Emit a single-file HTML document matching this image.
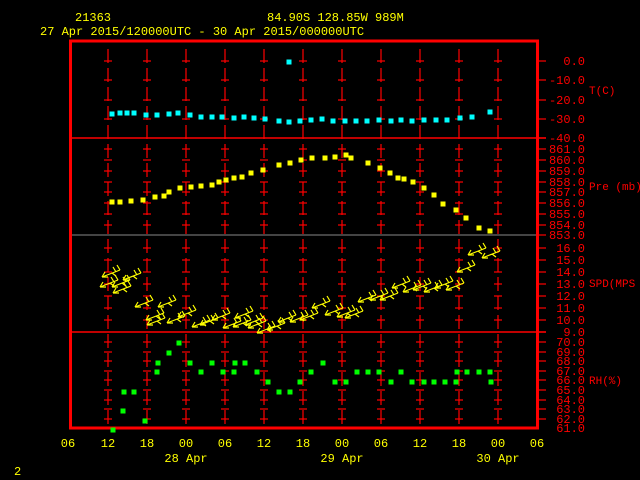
<!DOCTYPE html>
<html><head><meta charset="utf-8"><style>
html,body{margin:0;padding:0;background:#000;width:640px;height:480px;overflow:hidden}
svg{display:block}
text{font-family:"Liberation Mono",monospace;font-size:12px}
</style></head><body>
<svg id="s" width="640" height="480" xmlns="http://www.w3.org/2000/svg">
<rect width="640" height="480" fill="#000"/>
<g id="grid"></g>
<line x1="70" y1="235" x2="538" y2="235" stroke="#888" stroke-width="1"/>
<line x1="70" y1="138" x2="546" y2="138" stroke="#f00" stroke-width="1.5"/>
<line x1="70" y1="332" x2="546" y2="332" stroke="#f00" stroke-width="1.5"/>
<rect x="70.5" y="41" width="467" height="387" fill="none" stroke="#f00" stroke-width="3"/>
<g id="pts"></g>
<g id="wind" stroke="#ff0" stroke-width="1.2" fill="none"></g>
<g fill="#ff0">
<text x="75" y="21">21363</text>
<text x="267" y="21">84.90S  128.85W  989M</text>
<text x="40" y="35">27 Apr 2015/120000UTC - 30 Apr 2015/000000UTC</text>
<text x="14" y="475">2</text>
<g text-anchor="middle">
<text x="68" y="447">06</text><text x="108" y="447">12</text><text x="147" y="447">18</text><text x="186" y="447">00</text><text x="225" y="447">06</text><text x="264" y="447">12</text><text x="303" y="447">18</text><text x="342" y="447">00</text><text x="381" y="447">06</text><text x="420" y="447">12</text><text x="459" y="447">18</text><text x="498" y="447">00</text><text x="537" y="447">06</text>
<text x="186" y="462">28 Apr</text><text x="342" y="462">29 Apr</text><text x="498" y="462">30 Apr</text>
</g></g>
<g fill="#f00" text-anchor="end">
<text x="585" y="65">0.0</text><text x="585" y="84">-10.0</text><text x="585" y="104">-20.0</text><text x="585" y="123">-30.0</text><text x="585" y="142">-40.0</text>
<text x="585" y="153">861.0</text><text x="585" y="164">860.0</text><text x="585" y="175">859.0</text><text x="585" y="186">858.0</text><text x="585" y="196">857.0</text><text x="585" y="207">856.0</text><text x="585" y="218">855.0</text><text x="585" y="229">854.0</text><text x="585" y="239">853.0</text>
<text x="585" y="252">16.0</text><text x="585" y="264">15.0</text><text x="585" y="276">14.0</text><text x="585" y="288">13.0</text><text x="585" y="300">12.0</text><text x="585" y="312">11.0</text><text x="585" y="324">10.0</text><text x="585" y="336">9.0</text>
<text x="585" y="346">70.0</text><text x="585" y="356">69.0</text><text x="585" y="365">68.0</text><text x="585" y="375">67.0</text><text x="585" y="384">66.0</text><text x="585" y="394">65.0</text><text x="585" y="404">64.0</text><text x="585" y="413">63.0</text><text x="585" y="423">62.0</text><text x="585" y="432">61.0</text>
</g>
<g fill="#f00" font-size="11">
<text x="589" y="94" style="font-size:11px">T(C)</text>
<text x="589" y="190" style="font-size:11px">Pre (mb)</text>
<text x="589" y="287" style="font-size:11px">SPD(MPS</text>
<text x="589" y="384" style="font-size:11px">RH(%)</text>
</g>
</svg>
<script>
var NS="http://www.w3.org/2000/svg";
function el(p,t,a){var e=document.createElementNS(NS,t);for(var k in a)e.setAttribute(k,a[k]);p.appendChild(e);return e;}
var g=document.getElementById("grid");
var xs=[108,147,186,225,264,303,342,381,420,459,498];
var ys=[61,80,100,119,149,160,171,182,192,203,214,225,248,260,272,284,296,308,320,342,352,361,371,380,390,400,409,419];
xs.forEach(function(x){
 el(g,"line",{x1:x,y1:49,x2:x,y2:428,stroke:"#f00","stroke-width":1.2,"stroke-dasharray":"14,5"});
 ys.forEach(function(y){el(g,"line",{x1:x-4,y1:y,x2:x+4,y2:y,stroke:"#f00","stroke-width":1.2});});
});
ys.concat([138,235,332]).forEach(function(y){el(g,"line",{x1:538,y1:y,x2:546,y2:y,stroke:"#f00","stroke-width":1.2});});
var p=document.getElementById("pts");
function pts(a,c){for(var i=0;i<a.length;i+=2)el(p,"rect",{x:a[i]-2.5,y:a[i+1]-2.5,width:5,height:5,fill:c});}
pts([112,114,120,113,127,113,134,113,146,115,157,115,169,114,178,113,190,115,201,117,212,117,222,117,234,118,244,117,254,118,265,119,279,121,289,122,300,121,311,120,322,119,333,121,345,121,356,121,367,121,379,120,391,121,401,120,412,121,424,120,436,120,447,120,460,118,472,117,490,112,289,62],"#0ff");
pts([112,202,120,202,131,201,143,200,155,197,164,196,169,192,180,188,191,187,201,186,212,185,219,182,226,180,234,178,242,177,251,173,263,170,279,165,290,163,301,160,312,158,325,158,335,157,346,155,351,158,368,163,380,168,390,173,398,178,404,179,413,182,424,188,434,195,443,204,456,210,466,218,479,228,490,231],"#ff0");
pts([113,430,123,411,124,392,134,392,145,421,157,372,158,363,169,353,179,343,190,363,201,372,212,363,223,372,234,372,235,363,245,363,257,372,268,382,279,392,290,392,300,382,311,372,323,363,335,382,346,382,357,372,368,372,379,372,391,382,401,372,412,382,424,382,434,382,445,382,456,382,457,372,467,372,479,372,490,372,491,382],"#0f0");
var w=document.getElementById("wind");
var wp=[100,287,102,277,112,287,113,293,123,280,135,307,158,307,146,320,147,325,167,323,178,317,192,327,200,325,212,320,223,328,233,327,235,318,245,325,248,328,257,333,267,330,278,322,290,322,300,320,312,308,325,315,337,317,345,318,358,302,370,300,380,300,392,288,403,292,413,290,424,292,435,288,446,290,457,272,468,255,482,258];
for(var i=0;i<wp.length;i+=2){
 el(w,"path",{d:"M0,0 L18,-7 M0,0 L6,0 M0,0 L3,-5 M18,-7 L15,-12 M14,-5 L11,-10 M10,-4 L14,-1",transform:"translate("+wp[i]+","+wp[i+1]+")"});
}
</script>
</body></html>
